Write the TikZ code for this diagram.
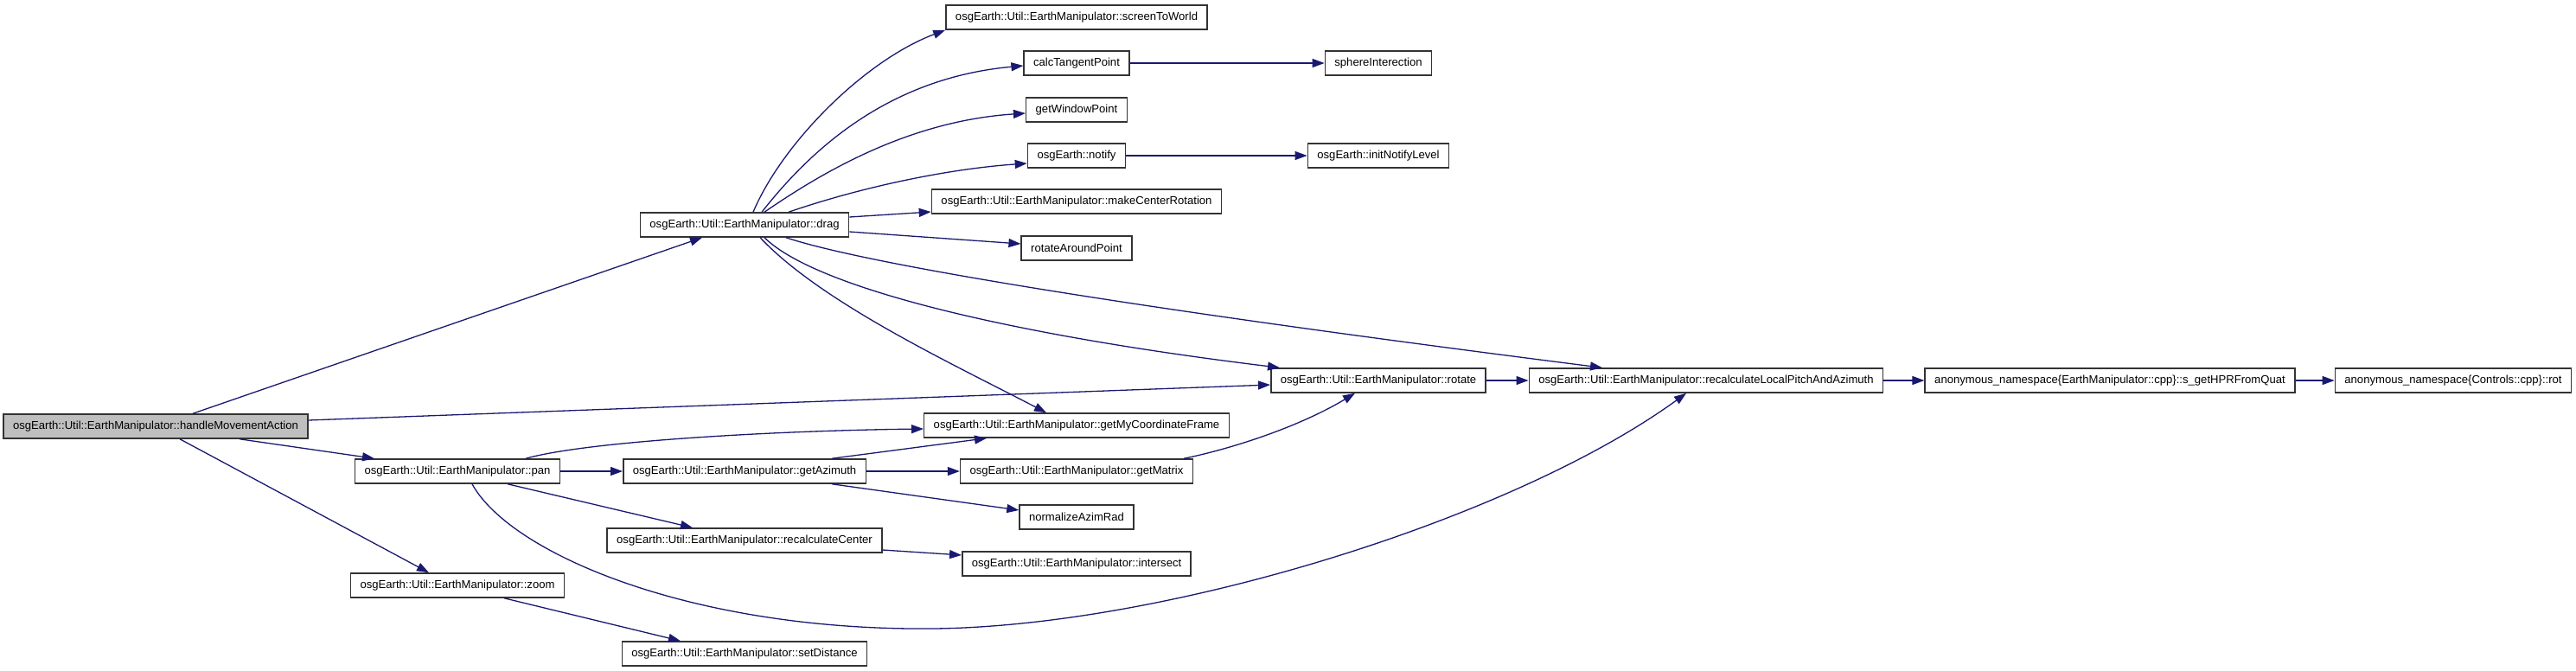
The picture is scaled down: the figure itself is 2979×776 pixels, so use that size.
\documentclass[tikz,border=0pt]{standalone}
\usepackage{fontspec}
\setmainfont{Liberation Sans}
\usetikzlibrary{arrows.meta}
\definecolor{edgeblue}{HTML}{191970}
\definecolor{rootgray}{HTML}{BFBFBF}
\begin{document}
\begin{tikzpicture}[x=1pt, y=-1pt,
    fn/.style={draw=black!80, line width=1.5pt, fill=white, minimum height=28pt,
        inner xsep=11pt, inner ysep=0pt, font=\fontsize{13.1}{15}\selectfont},
    root/.style={fn, fill=rootgray},
    call/.style={draw=edgeblue, line width=1.3pt, -{Triangle[length=14pt,width=10pt]}}]
    \useasboundingbox (0,0) rectangle (2979,776);

    % 入口
    \node[root] (hma) at (180,493) {osgEarth::Util::EarthManipulator::handleMovementAction};

    % 第二列
    \node[fn] (pan)  at (529,545) {osgEarth::Util::EarthManipulator::pan};
    \node[fn] (zoom) at (529,677) {osgEarth::Util::EarthManipulator::zoom};

    % 第三列
    \node[fn] (drag)   at (861,260) {osgEarth::Util::EarthManipulator::drag};
    \node[fn] (getaz)  at (861,545) {osgEarth::Util::EarthManipulator::getAzimuth};
    \node[fn] (recctr) at (861,625) {osgEarth::Util::EarthManipulator::recalculateCenter};
    \node[fn] (setdist) at (861,756) {osgEarth::Util::EarthManipulator::setDistance};

    % 第四列
    \node[fn] (s2w)    at (1245,20)  {osgEarth::Util::EarthManipulator::screenToWorld};
    \node[fn] (ctp)    at (1245,73)  {calcTangentPoint};
    \node[fn] (gwp)    at (1245,127) {getWindowPoint};
    \node[fn] (notify) at (1245,180) {osgEarth::notify};
    \node[fn] (mcr)    at (1245,233) {osgEarth::Util::EarthManipulator::makeCenterRotation};
    \node[fn] (rap)    at (1245,287) {rotateAroundPoint};
    \node[fn] (gmcf)   at (1245,492) {osgEarth::Util::EarthManipulator::getMyCoordinateFrame};
    \node[fn] (getmat) at (1245,545) {osgEarth::Util::EarthManipulator::getMatrix};
    \node[fn] (norm)   at (1245,598) {normalizeAzimRad};
    \node[fn] (isect)  at (1245,652) {osgEarth::Util::EarthManipulator::intersect};

    % 第五列及以后
    \node[fn] (sphere) at (1594,73)  {sphereInterection};
    \node[fn] (inl)    at (1594,180) {osgEarth::initNotifyLevel};
    \node[fn] (rotate) at (1594,440) {osgEarth::Util::EarthManipulator::rotate};
    \node[fn] (rlpa)   at (1973,440) {osgEarth::Util::EarthManipulator::recalculateLocalPitchAndAzimuth};
    \node[fn] (hpr)    at (2440,440) {anonymous\_namespace\{EarthManipulator::cpp\}::s\_getHPRFromQuat};
    \node[fn] (rot)    at (2837,440) {anonymous\_namespace\{Controls::cpp\}::rot};

    % 入口的调用
    \draw[call] ([xshift=43pt]hma.north) -- ([xshift=-49pt]drag.south);
    \draw[call] ([yshift=7pt]hma.east) -- ([yshift=-5pt]rotate.west);
    \draw[call] ([xshift=97pt]hma.south) -- ([xshift=-96pt]pan.north);
    \draw[call] ([xshift=28pt]hma.south) -- ([xshift=-33pt]zoom.north);

    % drag 的调用
    \draw[call] ([xshift=10pt]drag.north) .. controls (905,165) and (1000,70) .. (s2w.south west);
    \draw[call] ([xshift=20pt]drag.north) .. controls (940,170) and (1030,90) .. ([yshift=-3pt]ctp.west);
    \draw[call] ([xshift=23pt]drag.north) .. controls (950,200) and (1050,140) .. ([yshift=-4pt]gwp.west);
    \draw[call] ([xshift=51pt]drag.north) .. controls (1000,215) and (1100,195) .. ([yshift=-9pt]notify.west);
    \draw[call] ([yshift=9pt]drag.east) -- ([yshift=-12pt]mcr.west);
    \draw[call] ([yshift=-8pt]drag.east) -- ([yshift=5pt]rap.west);
    \draw[call] ([xshift=18pt]drag.south) .. controls (950,350) and (1100,420) .. ([xshift=-35pt]gmcf.north);
    \draw[call] ([xshift=23pt]drag.south) .. controls (940,330) and (1150,385) .. ([xshift=-114pt]rotate.north);
    \draw[call] ([xshift=48pt]drag.south) .. controls (1000,305) and (1300,355) .. ([xshift=-120pt]rlpa.north);
    \draw[call] (ctp) -- (sphere);
    \draw[call] (notify) -- (inl);

    % pan 的调用
    \draw[call] ([xshift=79pt]pan.north) .. controls (680,510) and (900,498) .. ([yshift=-4pt]gmcf.west);
    \draw[call] (pan) -- (getaz);
    \draw[call] ([xshift=58pt]pan.south) -- ([xshift=-60pt]recctr.north);
    \draw[call] ([xshift=17pt]pan.south) .. controls (590,640) and (800,730) .. (1080,727)
        .. controls (1350,724) and (1750,600) .. ([xshift=-23pt]rlpa.south);

    % getAzimuth 等
    \draw[call] ([xshift=101pt]getaz.north) -- ([xshift=-104pt]gmcf.south);
    \draw[call] (getaz) -- (getmat);
    \draw[call] ([xshift=101pt]getaz.south) -- ([yshift=8pt]norm.west);
    \draw[call] ([xshift=124pt]getmat.north) .. controls (1420,520) and (1500,495) .. ([xshift=-27pt]rotate.south);
    \draw[call] ([yshift=-11pt]recctr.east) -- ([yshift=10pt]isect.west);
    \draw[call] ([xshift=54pt]zoom.south) -- ([xshift=-74pt]setdist.north);

    % 右侧链
    \draw[call] (rotate) -- (rlpa);
    \draw[call] (rlpa) -- (hpr);
    \draw[call] (hpr) -- (rot);
\end{tikzpicture}
\end{document}
